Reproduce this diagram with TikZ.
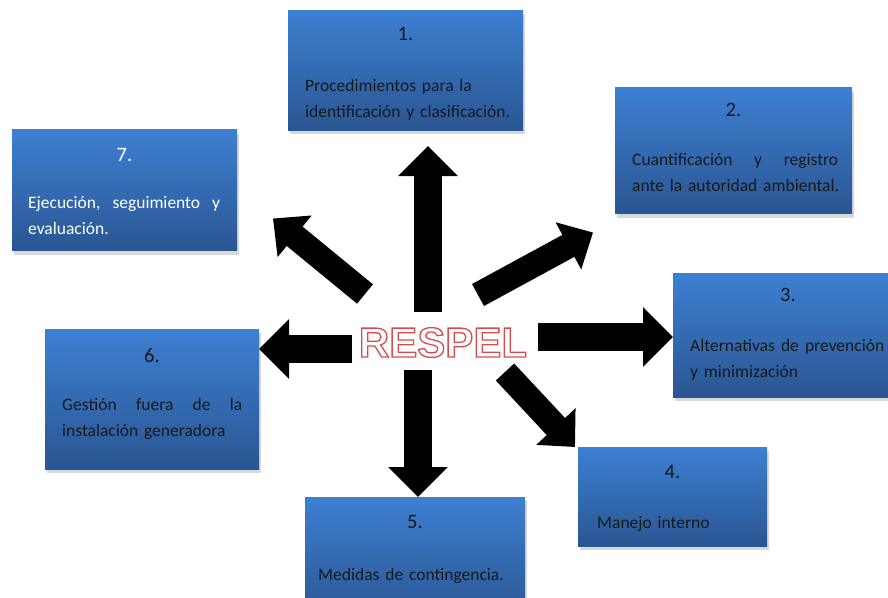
\documentclass[tikz,border=0pt]{standalone}
\usepackage{fontspec}
\setmainfont{Carlito}
\newfontfamily\letrero{Liberation Sans}
\usepackage{tikz}
\usetikzlibrary{arrows.meta, shadows}

\definecolor{azulclaro}{RGB}{61,128,210}
\definecolor{azuloscuro}{RGB}{42,86,146}

% letras huecas: relleno blanco, contorno rojo
\newcommand{\hueco}[1]{\special{pdf:literal direct q 1 1 1 rg 0.84 0.30 0.30 RG 1.3 w 2 Tr}#1\special{pdf:literal direct 0 Tr Q}}

\tikzset{
  caja/.style={rectangle, inner sep=0pt, outer sep=0pt, top color=azulclaro, bottom color=azuloscuro,
    drop shadow={shadow xshift=2pt, shadow yshift=-4pt, fill=black!30}},
  numero/.style={anchor=base, inner sep=0pt, font=\fontsize{20.5}{24}\selectfont},
  texto/.style={anchor=base west, inner sep=0pt, align=left, text width=240, font=\fontsize{17.5}{26}\selectfont},
  respel/.style={anchor=base, inner sep=0pt, font=\letrero\bfseries\fontsize{42}{42}\selectfont},
  flecha/.style={line width=28pt, -{Triangle[length=30pt, width=58pt]}},
  flechad/.style={line width=25pt, -{Triangle[length=28pt, width=52pt]}},
}

\begin{document}
\begin{tikzpicture}[x=1pt, y=-1pt, every node/.style={text=black!90}]
  \clip (0,0) rectangle (888,597);

  % cajas
  \node[caja, minimum width=235, minimum height=120] (b1) at (405.5,70) {};
  \node[caja, minimum width=237, minimum height=126] (b2) at (733.5,150.5) {};
  \node[caja, minimum width=230, minimum height=124] (b3) at (788,335) {};
  \node[caja, minimum width=189, minimum height=99] (b4) at (672.5,496.5) {};
  \node[caja, minimum width=220, minimum height=120] (b5) at (415,557) {};
  \node[caja, minimum width=214, minimum height=140] (b6) at (152,399) {};
  \node[caja, minimum width=225, minimum height=121] (b7) at (124.5,190) {};

  \node[numero] (n1) at (405.5,40) {1.};
  \node[texto] (t1) at (305,91) {Procedimientos para la\\identificación y clasificación.};

  \node[numero] (n2) at (733.5,116) {2.};
  \node[texto] (t2) at (632,165) {\hbox to 206pt{Cuantificación\hfill y\hfill registro}\\ante la autoridad ambiental.};

  \node[numero] (n3) at (788,301) {3.};
  \node[texto] (t3) at (690,351) {\hbox to 194pt{Alternativas\hfill de\hfill prevención}\\y minimización};

  \node[numero] (n4) at (672.5,478) {4.};
  \node[texto] (t4) at (597,528) {Manejo interno};

  \node[numero] (n5) at (415,528) {5.};
  \node[texto] (t5) at (318,580) {Medidas de contingencia.};

  \node[numero] (n6) at (152,362) {6.};
  \node[texto] (t6) at (62,410) {\hbox to 180pt{Gestión\hfill fuera\hfill de\hfill la}\\instalación generadora};

  \node[numero, text=white] (n7) at (124.5,161) {7.};
  \node[texto, text=white] (t7) at (28,208) {\hbox to 192pt{Ejecución,\hfill seguimiento\hfill y}\\evaluación.};

  % letrero central
  \node[respel] (respel) at (443,357) {\hueco{RESPEL}};

  % flechas
  \coordinate (s1) at (428,312);
  \coordinate (s2) at (478,295);
  \coordinate (s3) at (538,337);
  \coordinate (s4) at (505,372);
  \coordinate (s5) at (418,370);
  \coordinate (s6) at (352,349);
  \coordinate (s7) at (365,294);

  \draw[flecha, shorten >=16pt] (s1) -- (s1 |- b1.south);
  \draw[flechad] (s2) -- ([shift={(-22,19)}]b2.south west);
  \draw[flecha] (s3) -- (s3 -| b3.west);
  \draw[flechad] (s4) -- ([shift={(-3,0)}]b4.north west);
  \draw[flecha] (s5) -- (s5 |- b5.north);
  \draw[flecha] (s6) -- (s6 -| b6.east);
  \draw[flechad] (s7) -- ([shift={(36,-32)}]b7.south east);
\end{tikzpicture}
\end{document}
